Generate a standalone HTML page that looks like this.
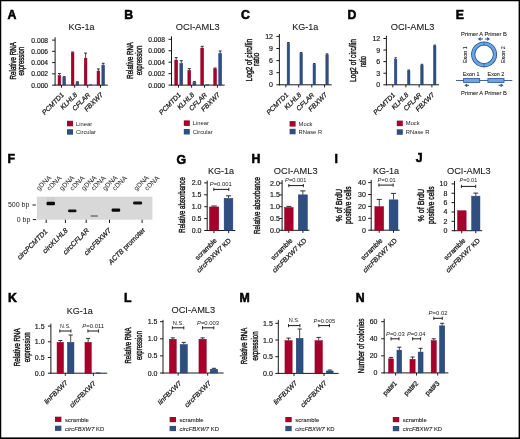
<!DOCTYPE html>
<html><head><meta charset="utf-8"><style>
html,body{margin:0;padding:0;background:#fff;}
body{width:520px;height:439px;overflow:hidden;position:relative;}
svg{display:block;position:absolute;left:0;top:0;will-change:transform;}
svg text{font-family:"Liberation Sans",sans-serif;}
.frame{position:absolute;left:0;top:0;width:520px;height:439px;box-sizing:border-box;border:1px solid #000;border-right-width:2px;border-bottom-width:2px;pointer-events:none;}
</style></head><body>
<svg width="520" height="439" viewBox="0 0 520 439" font-family="Liberation Sans, sans-serif">
<rect width="520" height="439" fill="#fff"/>
<text x="7.40" y="18.70" font-size="12.3" font-weight="bold" fill="#000" stroke="#000" stroke-width="0.55">A</text>
<text x="81.50" y="30.20" font-size="9" text-anchor="middle" fill="#1a1a1a" stroke="#1a1a1a" stroke-width="0.1">KG-1a</text>
<text x="0" y="0" transform="translate(15.50,60.80) rotate(-90)" font-size="9.3" text-anchor="middle" textLength="37.20" lengthAdjust="spacingAndGlyphs" fill="#1a1a1a" stroke="#1a1a1a" stroke-width="0.45">Relative RNA</text>
<text x="0" y="0" transform="translate(24.40,61.20) rotate(-90)" font-size="9.3" text-anchor="middle" textLength="28.60" lengthAdjust="spacingAndGlyphs" fill="#1a1a1a" stroke="#1a1a1a" stroke-width="0.45">expression</text>
<line x1="55.10" y1="37.30" x2="55.10" y2="85.60" stroke="#1a1a1a" stroke-width="1"/>
<line x1="52.10" y1="85.10" x2="55.10" y2="85.10" stroke="#1a1a1a" stroke-width="1"/>
<text x="48.10" y="87.60" font-size="6.7" text-anchor="end" fill="#1a1a1a" stroke="#1a1a1a" stroke-width="0.18">0.000</text>
<line x1="52.10" y1="73.85" x2="55.10" y2="73.85" stroke="#1a1a1a" stroke-width="1"/>
<text x="48.10" y="76.35" font-size="6.7" text-anchor="end" fill="#1a1a1a" stroke="#1a1a1a" stroke-width="0.18">0.002</text>
<line x1="52.10" y1="62.60" x2="55.10" y2="62.60" stroke="#1a1a1a" stroke-width="1"/>
<text x="48.10" y="65.10" font-size="6.7" text-anchor="end" fill="#1a1a1a" stroke="#1a1a1a" stroke-width="0.18">0.004</text>
<line x1="52.10" y1="51.35" x2="55.10" y2="51.35" stroke="#1a1a1a" stroke-width="1"/>
<text x="48.10" y="53.85" font-size="6.7" text-anchor="end" fill="#1a1a1a" stroke="#1a1a1a" stroke-width="0.18">0.006</text>
<line x1="52.10" y1="40.10" x2="55.10" y2="40.10" stroke="#1a1a1a" stroke-width="1"/>
<text x="48.10" y="42.60" font-size="6.7" text-anchor="end" fill="#1a1a1a" stroke="#1a1a1a" stroke-width="0.18">0.008</text>
<line x1="54.60" y1="85.10" x2="107.80" y2="85.10" stroke="#1a1a1a" stroke-width="1"/>
<line x1="61.50" y1="85.10" x2="61.50" y2="87.70" stroke="#1a1a1a" stroke-width="1"/>
<line x1="74.70" y1="85.10" x2="74.70" y2="87.70" stroke="#1a1a1a" stroke-width="1"/>
<line x1="87.70" y1="85.10" x2="87.70" y2="87.70" stroke="#1a1a1a" stroke-width="1"/>
<line x1="100.50" y1="85.10" x2="100.50" y2="87.70" stroke="#1a1a1a" stroke-width="1"/>
<line x1="59.40" y1="73.50" x2="59.40" y2="75.40" stroke="#1a1a1a" stroke-width="0.8"/>
<line x1="58.00" y1="73.50" x2="60.80" y2="73.50" stroke="#1a1a1a" stroke-width="0.9"/>
<rect x="58.05" y="75.65" width="2.70" height="9.45" fill="#a6002b" stroke="#8f0026" stroke-width="0.5"/>
<line x1="64.20" y1="76.60" x2="64.20" y2="77.10" stroke="#1a1a1a" stroke-width="0.8"/>
<line x1="62.80" y1="76.60" x2="65.60" y2="76.60" stroke="#1a1a1a" stroke-width="0.9"/>
<rect x="62.85" y="77.35" width="2.70" height="7.75" fill="#2f4f80" stroke="#1d3a74" stroke-width="0.5"/>
<line x1="72.60" y1="52.00" x2="72.60" y2="52.50" stroke="#1a1a1a" stroke-width="0.8"/>
<line x1="71.20" y1="52.00" x2="74.00" y2="52.00" stroke="#1a1a1a" stroke-width="0.9"/>
<rect x="71.25" y="52.75" width="2.70" height="32.35" fill="#a6002b" stroke="#8f0026" stroke-width="0.5"/>
<line x1="77.40" y1="81.80" x2="77.40" y2="82.20" stroke="#1a1a1a" stroke-width="0.8"/>
<line x1="76.00" y1="81.80" x2="78.80" y2="81.80" stroke="#1a1a1a" stroke-width="0.9"/>
<rect x="76.05" y="82.45" width="2.70" height="2.65" fill="#2f4f80" stroke="#1d3a74" stroke-width="0.5"/>
<line x1="85.60" y1="53.10" x2="85.60" y2="57.90" stroke="#1a1a1a" stroke-width="0.8"/>
<line x1="84.20" y1="53.10" x2="87.00" y2="53.10" stroke="#1a1a1a" stroke-width="0.9"/>
<rect x="84.25" y="58.15" width="2.70" height="26.95" fill="#a6002b" stroke="#8f0026" stroke-width="0.5"/>
<rect x="89.05" y="84.85" width="2.70" height="0.25" fill="#2f4f80" stroke="#1d3a74" stroke-width="0.5"/>
<line x1="98.40" y1="68.90" x2="98.40" y2="70.80" stroke="#1a1a1a" stroke-width="0.8"/>
<line x1="97.00" y1="68.90" x2="99.80" y2="68.90" stroke="#1a1a1a" stroke-width="0.9"/>
<rect x="97.05" y="71.05" width="2.70" height="14.05" fill="#a6002b" stroke="#8f0026" stroke-width="0.5"/>
<line x1="103.20" y1="63.30" x2="103.20" y2="64.90" stroke="#1a1a1a" stroke-width="0.8"/>
<line x1="101.80" y1="63.30" x2="104.60" y2="63.30" stroke="#1a1a1a" stroke-width="0.9"/>
<rect x="101.85" y="65.15" width="2.70" height="19.95" fill="#2f4f80" stroke="#1d3a74" stroke-width="0.5"/>
<text x="0" y="0" transform="translate(64.50,95.40) rotate(-45)" font-size="6.8" text-anchor="end" font-style="italic" fill="#1a1a1a" stroke="#1a1a1a" stroke-width="0.24">PCMTD1</text>
<text x="0" y="0" transform="translate(77.70,95.40) rotate(-45)" font-size="6.8" text-anchor="end" font-style="italic" fill="#1a1a1a" stroke="#1a1a1a" stroke-width="0.24">KLHL8</text>
<text x="0" y="0" transform="translate(90.70,95.40) rotate(-45)" font-size="6.8" text-anchor="end" font-style="italic" fill="#1a1a1a" stroke="#1a1a1a" stroke-width="0.24">CFLAR</text>
<text x="0" y="0" transform="translate(103.50,95.40) rotate(-45)" font-size="6.8" text-anchor="end" font-style="italic" fill="#1a1a1a" stroke="#1a1a1a" stroke-width="0.24">FBXW7</text>
<rect x="67.00" y="120.80" width="6.00" height="5.50" fill="#a6002b"/>
<rect x="67.00" y="129.20" width="6.00" height="5.50" fill="#2f4f80"/>
<text x="76.00" y="125.60" font-size="5.8" fill="#222">Linear</text>
<text x="76.00" y="134.00" font-size="5.8" fill="#222">Circular</text>
<text x="124.20" y="18.70" font-size="12.3" font-weight="bold" fill="#000" stroke="#000" stroke-width="0.55">B</text>
<text x="197.70" y="30.10" font-size="9.25" text-anchor="middle" fill="#1a1a1a" stroke="#1a1a1a" stroke-width="0.1">OCI-AML3</text>
<text x="0" y="0" transform="translate(132.50,60.40) rotate(-90)" font-size="9.3" text-anchor="middle" textLength="36.50" lengthAdjust="spacingAndGlyphs" fill="#1a1a1a" stroke="#1a1a1a" stroke-width="0.45">Relative RNA</text>
<text x="0" y="0" transform="translate(141.50,60.40) rotate(-90)" font-size="9.3" text-anchor="middle" textLength="29.60" lengthAdjust="spacingAndGlyphs" fill="#1a1a1a" stroke="#1a1a1a" stroke-width="0.45">expression</text>
<line x1="171.50" y1="36.30" x2="171.50" y2="85.60" stroke="#1a1a1a" stroke-width="1"/>
<line x1="168.50" y1="85.10" x2="171.50" y2="85.10" stroke="#1a1a1a" stroke-width="1"/>
<text x="165.00" y="87.60" font-size="6.7" text-anchor="end" fill="#1a1a1a" stroke="#1a1a1a" stroke-width="0.18">0.000</text>
<line x1="168.50" y1="73.65" x2="171.50" y2="73.65" stroke="#1a1a1a" stroke-width="1"/>
<text x="165.00" y="76.15" font-size="6.7" text-anchor="end" fill="#1a1a1a" stroke="#1a1a1a" stroke-width="0.18">0.002</text>
<line x1="168.50" y1="62.20" x2="171.50" y2="62.20" stroke="#1a1a1a" stroke-width="1"/>
<text x="165.00" y="64.70" font-size="6.7" text-anchor="end" fill="#1a1a1a" stroke="#1a1a1a" stroke-width="0.18">0.004</text>
<line x1="168.50" y1="50.75" x2="171.50" y2="50.75" stroke="#1a1a1a" stroke-width="1"/>
<text x="165.00" y="53.25" font-size="6.7" text-anchor="end" fill="#1a1a1a" stroke="#1a1a1a" stroke-width="0.18">0.006</text>
<line x1="168.50" y1="39.30" x2="171.50" y2="39.30" stroke="#1a1a1a" stroke-width="1"/>
<text x="165.00" y="41.80" font-size="6.7" text-anchor="end" fill="#1a1a1a" stroke="#1a1a1a" stroke-width="0.18">0.008</text>
<line x1="171.00" y1="85.10" x2="224.70" y2="85.10" stroke="#1a1a1a" stroke-width="1"/>
<line x1="178.50" y1="85.10" x2="178.50" y2="87.70" stroke="#1a1a1a" stroke-width="1"/>
<line x1="191.60" y1="85.10" x2="191.60" y2="87.70" stroke="#1a1a1a" stroke-width="1"/>
<line x1="204.50" y1="85.10" x2="204.50" y2="87.70" stroke="#1a1a1a" stroke-width="1"/>
<line x1="217.40" y1="85.10" x2="217.40" y2="87.70" stroke="#1a1a1a" stroke-width="1"/>
<line x1="176.20" y1="57.60" x2="176.20" y2="59.80" stroke="#1a1a1a" stroke-width="0.8"/>
<line x1="174.70" y1="57.60" x2="177.70" y2="57.60" stroke="#1a1a1a" stroke-width="0.9"/>
<rect x="174.75" y="60.05" width="2.90" height="25.05" fill="#a6002b" stroke="#8f0026" stroke-width="0.5"/>
<line x1="181.30" y1="60.70" x2="181.30" y2="63.20" stroke="#1a1a1a" stroke-width="0.8"/>
<line x1="179.80" y1="60.70" x2="182.80" y2="60.70" stroke="#1a1a1a" stroke-width="0.9"/>
<rect x="179.85" y="63.45" width="2.90" height="21.65" fill="#2f4f80" stroke="#1d3a74" stroke-width="0.5"/>
<line x1="189.30" y1="68.60" x2="189.30" y2="70.10" stroke="#1a1a1a" stroke-width="0.8"/>
<line x1="187.80" y1="68.60" x2="190.80" y2="68.60" stroke="#1a1a1a" stroke-width="0.9"/>
<rect x="187.85" y="70.35" width="2.90" height="14.75" fill="#a6002b" stroke="#8f0026" stroke-width="0.5"/>
<line x1="194.40" y1="81.60" x2="194.40" y2="82.40" stroke="#1a1a1a" stroke-width="0.8"/>
<line x1="192.90" y1="81.60" x2="195.90" y2="81.60" stroke="#1a1a1a" stroke-width="0.9"/>
<rect x="192.95" y="82.65" width="2.90" height="2.45" fill="#2f4f80" stroke="#1d3a74" stroke-width="0.5"/>
<line x1="202.20" y1="46.30" x2="202.20" y2="47.80" stroke="#1a1a1a" stroke-width="0.8"/>
<line x1="200.70" y1="46.30" x2="203.70" y2="46.30" stroke="#1a1a1a" stroke-width="0.9"/>
<rect x="200.75" y="48.05" width="2.90" height="37.05" fill="#a6002b" stroke="#8f0026" stroke-width="0.5"/>
<rect x="205.85" y="84.75" width="2.90" height="0.35" fill="#2f4f80" stroke="#1d3a74" stroke-width="0.5"/>
<line x1="215.10" y1="68.00" x2="215.10" y2="68.60" stroke="#1a1a1a" stroke-width="0.8"/>
<line x1="213.60" y1="68.00" x2="216.60" y2="68.00" stroke="#1a1a1a" stroke-width="0.9"/>
<rect x="213.65" y="68.85" width="2.90" height="16.25" fill="#a6002b" stroke="#8f0026" stroke-width="0.5"/>
<line x1="220.20" y1="51.00" x2="220.20" y2="53.20" stroke="#1a1a1a" stroke-width="0.8"/>
<line x1="218.70" y1="51.00" x2="221.70" y2="51.00" stroke="#1a1a1a" stroke-width="0.9"/>
<rect x="218.75" y="53.45" width="2.90" height="31.65" fill="#2f4f80" stroke="#1d3a74" stroke-width="0.5"/>
<text x="0" y="0" transform="translate(181.50,95.40) rotate(-45)" font-size="6.8" text-anchor="end" font-style="italic" fill="#1a1a1a" stroke="#1a1a1a" stroke-width="0.24">PCMTD1</text>
<text x="0" y="0" transform="translate(194.60,95.40) rotate(-45)" font-size="6.8" text-anchor="end" font-style="italic" fill="#1a1a1a" stroke="#1a1a1a" stroke-width="0.24">KLHL8</text>
<text x="0" y="0" transform="translate(207.50,95.40) rotate(-45)" font-size="6.8" text-anchor="end" font-style="italic" fill="#1a1a1a" stroke="#1a1a1a" stroke-width="0.24">CFLAR</text>
<text x="0" y="0" transform="translate(220.40,95.40) rotate(-45)" font-size="6.8" text-anchor="end" font-style="italic" fill="#1a1a1a" stroke="#1a1a1a" stroke-width="0.24">FBXW7</text>
<rect x="183.80" y="120.40" width="6.00" height="5.50" fill="#a6002b"/>
<rect x="183.80" y="129.00" width="6.00" height="5.50" fill="#2f4f80"/>
<text x="192.80" y="125.20" font-size="5.8" fill="#222">Linear</text>
<text x="192.80" y="133.80" font-size="5.8" fill="#222">Circular</text>
<text x="240.90" y="18.80" font-size="12.3" font-weight="bold" fill="#000" stroke="#000" stroke-width="0.55">C</text>
<text x="305.30" y="30.10" font-size="9" text-anchor="middle" fill="#1a1a1a" stroke="#1a1a1a" stroke-width="0.1">KG-1a</text>
<text x="0" y="0" transform="translate(251.50,60.20) rotate(-90)" font-size="9.3" text-anchor="middle" textLength="42.50" lengthAdjust="spacingAndGlyphs" fill="#1a1a1a" stroke="#1a1a1a" stroke-width="0.45">Log2 of circ/lin</text>
<text x="0" y="0" transform="translate(259.00,59.40) rotate(-90)" font-size="9.3" text-anchor="middle" textLength="13.20" lengthAdjust="spacingAndGlyphs" fill="#1a1a1a" stroke="#1a1a1a" stroke-width="0.45">ratio</text>
<line x1="279.40" y1="34.00" x2="279.40" y2="85.30" stroke="#1a1a1a" stroke-width="1"/>
<line x1="276.40" y1="84.80" x2="279.40" y2="84.80" stroke="#1a1a1a" stroke-width="1"/>
<text x="273.00" y="87.30" font-size="7" text-anchor="end" fill="#1a1a1a" stroke="#1a1a1a" stroke-width="0.18">0</text>
<line x1="276.40" y1="72.70" x2="279.40" y2="72.70" stroke="#1a1a1a" stroke-width="1"/>
<text x="273.00" y="75.20" font-size="7" text-anchor="end" fill="#1a1a1a" stroke="#1a1a1a" stroke-width="0.18">3</text>
<line x1="276.40" y1="60.60" x2="279.40" y2="60.60" stroke="#1a1a1a" stroke-width="1"/>
<text x="273.00" y="63.10" font-size="7" text-anchor="end" fill="#1a1a1a" stroke="#1a1a1a" stroke-width="0.18">6</text>
<line x1="276.40" y1="48.50" x2="279.40" y2="48.50" stroke="#1a1a1a" stroke-width="1"/>
<text x="273.00" y="51.00" font-size="7" text-anchor="end" fill="#1a1a1a" stroke="#1a1a1a" stroke-width="0.18">9</text>
<line x1="276.40" y1="36.40" x2="279.40" y2="36.40" stroke="#1a1a1a" stroke-width="1"/>
<text x="273.00" y="38.90" font-size="7" text-anchor="end" fill="#1a1a1a" stroke="#1a1a1a" stroke-width="0.18">12</text>
<line x1="278.90" y1="84.80" x2="331.70" y2="84.80" stroke="#1a1a1a" stroke-width="1"/>
<line x1="285.90" y1="84.80" x2="285.90" y2="87.40" stroke="#1a1a1a" stroke-width="1"/>
<line x1="298.70" y1="84.80" x2="298.70" y2="87.40" stroke="#1a1a1a" stroke-width="1"/>
<line x1="311.80" y1="84.80" x2="311.80" y2="87.40" stroke="#1a1a1a" stroke-width="1"/>
<line x1="324.60" y1="84.80" x2="324.60" y2="87.40" stroke="#1a1a1a" stroke-width="1"/>
<line x1="288.35" y1="42.50" x2="288.35" y2="43.10" stroke="#1a1a1a" stroke-width="0.8"/>
<line x1="287.10" y1="42.50" x2="289.60" y2="42.50" stroke="#1a1a1a" stroke-width="0.9"/>
<rect x="287.15" y="43.35" width="2.40" height="41.45" fill="#2f4f80" stroke="#1d3a74" stroke-width="0.5"/>
<line x1="301.15" y1="52.50" x2="301.15" y2="53.10" stroke="#1a1a1a" stroke-width="0.8"/>
<line x1="299.90" y1="52.50" x2="302.40" y2="52.50" stroke="#1a1a1a" stroke-width="0.9"/>
<rect x="299.95" y="53.35" width="2.40" height="31.45" fill="#2f4f80" stroke="#1d3a74" stroke-width="0.5"/>
<line x1="314.25" y1="63.60" x2="314.25" y2="64.20" stroke="#1a1a1a" stroke-width="0.8"/>
<line x1="313.00" y1="63.60" x2="315.50" y2="63.60" stroke="#1a1a1a" stroke-width="0.9"/>
<rect x="313.05" y="64.45" width="2.40" height="20.35" fill="#2f4f80" stroke="#1d3a74" stroke-width="0.5"/>
<line x1="327.05" y1="53.90" x2="327.05" y2="54.50" stroke="#1a1a1a" stroke-width="0.8"/>
<line x1="325.80" y1="53.90" x2="328.30" y2="53.90" stroke="#1a1a1a" stroke-width="0.9"/>
<rect x="325.85" y="54.75" width="2.40" height="30.05" fill="#2f4f80" stroke="#1d3a74" stroke-width="0.5"/>
<text x="0" y="0" transform="translate(288.90,95.40) rotate(-45)" font-size="6.8" text-anchor="end" font-style="italic" fill="#1a1a1a" stroke="#1a1a1a" stroke-width="0.24">PCMTD1</text>
<text x="0" y="0" transform="translate(301.70,95.40) rotate(-45)" font-size="6.8" text-anchor="end" font-style="italic" fill="#1a1a1a" stroke="#1a1a1a" stroke-width="0.24">KLHL8</text>
<text x="0" y="0" transform="translate(314.80,95.40) rotate(-45)" font-size="6.8" text-anchor="end" font-style="italic" fill="#1a1a1a" stroke="#1a1a1a" stroke-width="0.24">CFLAR</text>
<text x="0" y="0" transform="translate(327.60,95.40) rotate(-45)" font-size="6.8" text-anchor="end" font-style="italic" fill="#1a1a1a" stroke="#1a1a1a" stroke-width="0.24">FBXW7</text>
<rect x="289.60" y="121.10" width="6.00" height="5.50" fill="#a6002b"/>
<rect x="289.60" y="128.80" width="6.00" height="5.50" fill="#2f4f80"/>
<text x="298.60" y="125.90" font-size="5.8" fill="#222">Mock</text>
<text x="298.60" y="133.60" font-size="5.8" fill="#222">RNase R</text>
<text x="347.40" y="18.50" font-size="12.3" font-weight="bold" fill="#000" stroke="#000" stroke-width="0.55">D</text>
<text x="412.60" y="30.30" font-size="9.25" text-anchor="middle" fill="#1a1a1a" stroke="#1a1a1a" stroke-width="0.1">OCI-AML3</text>
<text x="0" y="0" transform="translate(356.10,60.50) rotate(-90)" font-size="9.3" text-anchor="middle" textLength="43.10" lengthAdjust="spacingAndGlyphs" fill="#1a1a1a" stroke="#1a1a1a" stroke-width="0.45">Log2 of circ/lin</text>
<text x="0" y="0" transform="translate(365.50,61.50) rotate(-90)" font-size="9.3" text-anchor="middle" textLength="11.10" lengthAdjust="spacingAndGlyphs" fill="#1a1a1a" stroke="#1a1a1a" stroke-width="0.45">ratio</text>
<line x1="386.40" y1="35.70" x2="386.40" y2="85.30" stroke="#1a1a1a" stroke-width="1"/>
<line x1="383.40" y1="84.80" x2="386.40" y2="84.80" stroke="#1a1a1a" stroke-width="1"/>
<text x="380.20" y="87.30" font-size="7" text-anchor="end" fill="#1a1a1a" stroke="#1a1a1a" stroke-width="0.18">0</text>
<line x1="383.40" y1="73.22" x2="386.40" y2="73.22" stroke="#1a1a1a" stroke-width="1"/>
<text x="380.20" y="75.72" font-size="7" text-anchor="end" fill="#1a1a1a" stroke="#1a1a1a" stroke-width="0.18">3</text>
<line x1="383.40" y1="61.64" x2="386.40" y2="61.64" stroke="#1a1a1a" stroke-width="1"/>
<text x="380.20" y="64.14" font-size="7" text-anchor="end" fill="#1a1a1a" stroke="#1a1a1a" stroke-width="0.18">6</text>
<line x1="383.40" y1="50.06" x2="386.40" y2="50.06" stroke="#1a1a1a" stroke-width="1"/>
<text x="380.20" y="52.56" font-size="7" text-anchor="end" fill="#1a1a1a" stroke="#1a1a1a" stroke-width="0.18">9</text>
<line x1="383.40" y1="38.48" x2="386.40" y2="38.48" stroke="#1a1a1a" stroke-width="1"/>
<text x="380.20" y="40.98" font-size="7" text-anchor="end" fill="#1a1a1a" stroke="#1a1a1a" stroke-width="0.18">12</text>
<line x1="385.90" y1="84.80" x2="439.00" y2="84.80" stroke="#1a1a1a" stroke-width="1"/>
<line x1="392.80" y1="84.80" x2="392.80" y2="87.40" stroke="#1a1a1a" stroke-width="1"/>
<line x1="405.90" y1="84.80" x2="405.90" y2="87.40" stroke="#1a1a1a" stroke-width="1"/>
<line x1="419.10" y1="84.80" x2="419.10" y2="87.40" stroke="#1a1a1a" stroke-width="1"/>
<line x1="431.90" y1="84.80" x2="431.90" y2="87.40" stroke="#1a1a1a" stroke-width="1"/>
<line x1="395.65" y1="57.80" x2="395.65" y2="59.20" stroke="#1a1a1a" stroke-width="0.8"/>
<line x1="394.40" y1="57.80" x2="396.90" y2="57.80" stroke="#1a1a1a" stroke-width="0.9"/>
<rect x="394.45" y="59.45" width="2.40" height="25.35" fill="#2f4f80" stroke="#1d3a74" stroke-width="0.5"/>
<line x1="408.75" y1="70.00" x2="408.75" y2="70.60" stroke="#1a1a1a" stroke-width="0.8"/>
<line x1="407.50" y1="70.00" x2="410.00" y2="70.00" stroke="#1a1a1a" stroke-width="0.9"/>
<rect x="407.55" y="70.85" width="2.40" height="13.95" fill="#2f4f80" stroke="#1d3a74" stroke-width="0.5"/>
<line x1="421.95" y1="64.30" x2="421.95" y2="64.90" stroke="#1a1a1a" stroke-width="0.8"/>
<line x1="420.70" y1="64.30" x2="423.20" y2="64.30" stroke="#1a1a1a" stroke-width="0.9"/>
<rect x="420.75" y="65.15" width="2.40" height="19.65" fill="#2f4f80" stroke="#1d3a74" stroke-width="0.5"/>
<line x1="434.75" y1="45.10" x2="434.75" y2="45.70" stroke="#1a1a1a" stroke-width="0.8"/>
<line x1="433.50" y1="45.10" x2="436.00" y2="45.10" stroke="#1a1a1a" stroke-width="0.9"/>
<rect x="433.55" y="45.95" width="2.40" height="38.85" fill="#2f4f80" stroke="#1d3a74" stroke-width="0.5"/>
<text x="0" y="0" transform="translate(395.80,95.40) rotate(-45)" font-size="6.8" text-anchor="end" font-style="italic" fill="#1a1a1a" stroke="#1a1a1a" stroke-width="0.24">PCMTD1</text>
<text x="0" y="0" transform="translate(408.90,95.40) rotate(-45)" font-size="6.8" text-anchor="end" font-style="italic" fill="#1a1a1a" stroke="#1a1a1a" stroke-width="0.24">KLHL8</text>
<text x="0" y="0" transform="translate(422.10,95.40) rotate(-45)" font-size="6.8" text-anchor="end" font-style="italic" fill="#1a1a1a" stroke="#1a1a1a" stroke-width="0.24">CFLAR</text>
<text x="0" y="0" transform="translate(434.90,95.40) rotate(-45)" font-size="6.8" text-anchor="end" font-style="italic" fill="#1a1a1a" stroke="#1a1a1a" stroke-width="0.24">FBXW7</text>
<rect x="396.80" y="120.60" width="6.00" height="5.50" fill="#a6002b"/>
<rect x="396.80" y="129.30" width="6.00" height="5.50" fill="#2f4f80"/>
<text x="405.80" y="125.40" font-size="5.8" fill="#222">Mock</text>
<text x="405.80" y="134.10" font-size="5.8" fill="#222">RNase R</text>
<text x="455.80" y="18.80" font-size="12.3" font-weight="bold" fill="#000" stroke="#000" stroke-width="0.55">E</text>
<text x="461.10" y="35.60" font-size="6.2" textLength="45.80" lengthAdjust="spacingAndGlyphs" fill="#222" stroke="#222" stroke-width="0.1">Primer A Primer B</text>
<text x="461.10" y="95.00" font-size="6.2" textLength="45.80" lengthAdjust="spacingAndGlyphs" fill="#222" stroke="#222" stroke-width="0.1">Primer A Primer B</text>
<line x1="479.80" y1="39.00" x2="483.00" y2="39.00" stroke="#2a5599" stroke-width="1.0"/>
<path d="M477.80,39.00 L480.60,37.10 L480.60,40.90 Z" fill="#2a5599"/>
<line x1="485.00" y1="39.00" x2="488.00" y2="39.00" stroke="#2a5599" stroke-width="1.0"/>
<path d="M490.00,39.00 L487.20,37.10 L487.20,40.90 Z" fill="#2a5599"/>
<circle cx="484.1" cy="54.4" r="10.9" fill="none" stroke="#2a5599" stroke-width="4.2"/>
<circle cx="484.1" cy="54.4" r="10.9" fill="none" stroke="#6aa6e0" stroke-width="2.5"/>
<line x1="484.10" y1="42.00" x2="484.10" y2="45.60" stroke="#2a5599" stroke-width="0.7"/>
<line x1="484.10" y1="63.20" x2="484.10" y2="66.80" stroke="#2a5599" stroke-width="0.7"/>
<text x="0" y="0" transform="translate(466.70,54.60) rotate(-90)" font-size="6.2" text-anchor="middle" textLength="16.80" lengthAdjust="spacingAndGlyphs" fill="#222" stroke="#222" stroke-width="0.1">Exon 1</text>
<text x="0" y="0" transform="translate(505.00,54.60) rotate(-90)" font-size="6.2" text-anchor="middle" textLength="16.80" lengthAdjust="spacingAndGlyphs" fill="#222" stroke="#222" stroke-width="0.1">Exon 2</text>
<text x="462.80" y="75.70" font-size="6.2" textLength="16.60" lengthAdjust="spacingAndGlyphs" fill="#222" stroke="#222" stroke-width="0.1">Exon 1</text>
<text x="487.60" y="75.70" font-size="6.2" textLength="16.70" lengthAdjust="spacingAndGlyphs" fill="#222" stroke="#222" stroke-width="0.1">Exon 2</text>
<line x1="456.00" y1="80.50" x2="512.30" y2="80.50" stroke="#2a5599" stroke-width="0.9"/>
<rect x="463.6" y="78.5" width="16.1" height="4.0" fill="#6aa6e0" stroke="#2a5599" stroke-width="0.8"/>
<rect x="487.9" y="78.5" width="16.1" height="4.0" fill="#6aa6e0" stroke="#2a5599" stroke-width="0.8"/>
<line x1="466.30" y1="85.30" x2="469.00" y2="85.30" stroke="#2a5599" stroke-width="1.0"/>
<path d="M464.30,85.30 L467.10,83.40 L467.10,87.20 Z" fill="#2a5599"/>
<line x1="498.50" y1="85.30" x2="501.50" y2="85.30" stroke="#2a5599" stroke-width="1.0"/>
<path d="M503.50,85.30 L500.70,83.40 L500.70,87.20 Z" fill="#2a5599"/>
<text x="7.60" y="162.80" font-size="12.3" font-weight="bold" fill="#000" stroke="#000" stroke-width="0.55">F</text>
<rect x="36.90" y="196.70" width="115.50" height="23.00" fill="#d8d8d8"/>
<rect x="46.5" y="197" width="8.5" height="4.8" fill="#cfcfcf"/>
<rect x="46.5" y="201.8" width="8.50" height="3.50" rx="1.2" fill="#0a0a0a"/>
<rect x="68" y="209.5" width="8.50" height="2.70" rx="1.2" fill="#111"/>
<rect x="90.3" y="214.9" width="7.80" height="2.10" rx="1.2" fill="#8c8c8c"/>
<rect x="111.6" y="208.5" width="8.60" height="3.30" rx="1.2" fill="#0a0a0a"/>
<rect x="133.1" y="201.5" width="9.00" height="2.90" rx="1.2" fill="#111"/>
<text x="29.40" y="207.40" font-size="7" text-anchor="end" fill="#1a1a1a">500 bp</text>
<text x="30.40" y="221.60" font-size="7" text-anchor="end" fill="#1a1a1a">0 bp</text>
<line x1="32.50" y1="205.00" x2="35.80" y2="205.00" stroke="#1a1a1a" stroke-width="1"/>
<line x1="32.80" y1="219.60" x2="36.20" y2="219.60" stroke="#1a1a1a" stroke-width="1"/>
<line x1="46.20" y1="219.70" x2="46.20" y2="223.00" stroke="#1a1a1a" stroke-width="1"/>
<line x1="65.40" y1="219.70" x2="65.40" y2="223.00" stroke="#1a1a1a" stroke-width="1"/>
<line x1="86.20" y1="219.70" x2="86.20" y2="223.00" stroke="#1a1a1a" stroke-width="1"/>
<line x1="109.50" y1="219.70" x2="109.50" y2="223.00" stroke="#1a1a1a" stroke-width="1"/>
<line x1="142.10" y1="219.70" x2="142.10" y2="223.00" stroke="#1a1a1a" stroke-width="1"/>
<text x="0" y="0" transform="translate(38.90,191.00) rotate(-45)" font-size="6.8" fill="#1a1a1a">gDNA</text>
<text x="0" y="0" transform="translate(49.50,191.00) rotate(-45)" font-size="6.8" fill="#1a1a1a">cDNA</text>
<text x="0" y="0" transform="translate(62.00,191.00) rotate(-45)" font-size="6.8" fill="#1a1a1a">gDNA</text>
<text x="0" y="0" transform="translate(72.50,191.00) rotate(-45)" font-size="6.8" fill="#1a1a1a">cDNA</text>
<text x="0" y="0" transform="translate(84.10,191.00) rotate(-45)" font-size="6.8" fill="#1a1a1a">gDNA</text>
<text x="0" y="0" transform="translate(93.70,191.00) rotate(-45)" font-size="6.8" fill="#1a1a1a">cDNA</text>
<text x="0" y="0" transform="translate(105.20,191.00) rotate(-45)" font-size="6.8" fill="#1a1a1a">gDNA</text>
<text x="0" y="0" transform="translate(114.90,191.00) rotate(-45)" font-size="6.8" fill="#1a1a1a">cDNA</text>
<text x="0" y="0" transform="translate(136.50,191.00) rotate(-45)" font-size="6.8" fill="#1a1a1a">gDNA</text>
<text x="0" y="0" transform="translate(147.20,191.00) rotate(-45)" font-size="6.8" fill="#1a1a1a">cDNA</text>
<text x="0" y="0" transform="translate(48.10,232.00) rotate(-45)" font-size="7" text-anchor="end" font-style="italic" fill="#1a1a1a" stroke="#1a1a1a" stroke-width="0.24"><tspan>circ</tspan>PCMTD1</text>
<text x="0" y="0" transform="translate(68.20,231.00) rotate(-45)" font-size="7" text-anchor="end" font-style="italic" fill="#1a1a1a" stroke="#1a1a1a" stroke-width="0.24">circKLHL8</text>
<text x="0" y="0" transform="translate(89.60,231.00) rotate(-45)" font-size="7" text-anchor="end" font-style="italic" fill="#1a1a1a" stroke="#1a1a1a" stroke-width="0.24">circCFLAR</text>
<text x="0" y="0" transform="translate(111.50,231.00) rotate(-45)" font-size="7" text-anchor="end" font-style="italic" fill="#1a1a1a" stroke="#1a1a1a" stroke-width="0.24">circFBXW7</text>
<text x="0" y="0" transform="translate(145.60,230.50) rotate(-45)" font-size="7" text-anchor="end" fill="#1a1a1a" stroke="#1a1a1a" stroke-width="0.24"><tspan font-style="italic">ACTB</tspan> promoter</text>
<text x="221.00" y="174.00" font-size="9" text-anchor="middle" fill="#1a1a1a" stroke="#1a1a1a" stroke-width="0.1">KG-1a</text>
<text x="176.40" y="163.80" font-size="12.3" font-weight="bold" fill="#000" stroke="#000" stroke-width="0.55">G</text>
<text x="0" y="0" transform="translate(185.00,204.90) rotate(-90)" font-size="9.3" text-anchor="middle" textLength="55.60" lengthAdjust="spacingAndGlyphs" fill="#1a1a1a" stroke="#1a1a1a" stroke-width="0.45">Relative absorbance</text>
<line x1="207.20" y1="180.60" x2="207.20" y2="231.00" stroke="#1a1a1a" stroke-width="1"/>
<line x1="204.20" y1="230.50" x2="207.20" y2="230.50" stroke="#1a1a1a" stroke-width="1"/>
<text x="201.50" y="233.00" font-size="7" text-anchor="end" fill="#1a1a1a" stroke="#1a1a1a" stroke-width="0.18">0.0</text>
<line x1="204.20" y1="218.60" x2="207.20" y2="218.60" stroke="#1a1a1a" stroke-width="1"/>
<text x="201.50" y="221.10" font-size="7" text-anchor="end" fill="#1a1a1a" stroke="#1a1a1a" stroke-width="0.18">0.5</text>
<line x1="204.20" y1="206.70" x2="207.20" y2="206.70" stroke="#1a1a1a" stroke-width="1"/>
<text x="201.50" y="209.20" font-size="7" text-anchor="end" fill="#1a1a1a" stroke="#1a1a1a" stroke-width="0.18">1.0</text>
<line x1="204.20" y1="194.80" x2="207.20" y2="194.80" stroke="#1a1a1a" stroke-width="1"/>
<text x="201.50" y="197.30" font-size="7" text-anchor="end" fill="#1a1a1a" stroke="#1a1a1a" stroke-width="0.18">1.5</text>
<line x1="204.20" y1="182.90" x2="207.20" y2="182.90" stroke="#1a1a1a" stroke-width="1"/>
<text x="201.50" y="185.40" font-size="7" text-anchor="end" fill="#1a1a1a" stroke="#1a1a1a" stroke-width="0.18">2.0</text>
<line x1="206.70" y1="230.50" x2="235.20" y2="230.50" stroke="#1a1a1a" stroke-width="1"/>
<line x1="213.90" y1="230.50" x2="213.90" y2="233.10" stroke="#1a1a1a" stroke-width="1"/>
<line x1="228.70" y1="230.50" x2="228.70" y2="233.10" stroke="#1a1a1a" stroke-width="1"/>
<line x1="214.10" y1="206.00" x2="214.10" y2="206.70" stroke="#1a1a1a" stroke-width="0.8"/>
<line x1="211.36" y1="206.00" x2="216.84" y2="206.00" stroke="#1a1a1a" stroke-width="0.9"/>
<rect x="209.45" y="206.95" width="9.30" height="23.55" fill="#a6002b" stroke="#8f0026" stroke-width="0.5"/>
<line x1="228.50" y1="195.80" x2="228.50" y2="198.10" stroke="#1a1a1a" stroke-width="0.8"/>
<line x1="225.94" y1="195.80" x2="231.06" y2="195.80" stroke="#1a1a1a" stroke-width="0.9"/>
<rect x="224.15" y="198.35" width="8.70" height="32.15" fill="#2f4f80" stroke="#1d3a74" stroke-width="0.5"/>
<line x1="213.80" y1="189.40" x2="228.80" y2="189.40" stroke="#1a1a1a" stroke-width="1"/>
<line x1="213.80" y1="187.80" x2="213.80" y2="191.00" stroke="#1a1a1a" stroke-width="0.9"/>
<line x1="228.80" y1="187.80" x2="228.80" y2="191.00" stroke="#1a1a1a" stroke-width="0.9"/>
<text x="209.80" y="186.40" font-size="5.8" textLength="21.90" lengthAdjust="spacingAndGlyphs" fill="#1a1a1a"><tspan font-style="italic">P</tspan>=0.001</text>
<text x="0" y="0" transform="translate(217.30,241.00) rotate(-45)" font-size="6.8" text-anchor="end" fill="#1a1a1a" stroke="#1a1a1a" stroke-width="0.24">scramble</text>
<text x="0" y="0" transform="translate(231.40,241.00) rotate(-45)" font-size="6.8" text-anchor="end" fill="#1a1a1a" stroke="#1a1a1a" stroke-width="0.24"><tspan font-style="italic">circFBXW7</tspan> KD</text>
<text x="251.40" y="163.00" font-size="12.3" font-weight="bold" fill="#000" stroke="#000" stroke-width="0.55">H</text>
<text x="0" y="0" transform="translate(260.00,205.50) rotate(-90)" font-size="9.3" text-anchor="middle" textLength="57.00" lengthAdjust="spacingAndGlyphs" fill="#1a1a1a" stroke="#1a1a1a" stroke-width="0.45">Relative absorbance</text>
<line x1="282.10" y1="180.10" x2="282.10" y2="230.80" stroke="#1a1a1a" stroke-width="1"/>
<line x1="279.10" y1="230.30" x2="282.10" y2="230.30" stroke="#1a1a1a" stroke-width="1"/>
<text x="279.80" y="232.80" font-size="7" text-anchor="end" fill="#1a1a1a" stroke="#1a1a1a" stroke-width="0.18">0.0</text>
<line x1="279.10" y1="218.50" x2="282.10" y2="218.50" stroke="#1a1a1a" stroke-width="1"/>
<text x="279.80" y="221.00" font-size="7" text-anchor="end" fill="#1a1a1a" stroke="#1a1a1a" stroke-width="0.18">0.5</text>
<line x1="279.10" y1="206.70" x2="282.10" y2="206.70" stroke="#1a1a1a" stroke-width="1"/>
<text x="279.80" y="209.20" font-size="7" text-anchor="end" fill="#1a1a1a" stroke="#1a1a1a" stroke-width="0.18">1.0</text>
<line x1="279.10" y1="194.90" x2="282.10" y2="194.90" stroke="#1a1a1a" stroke-width="1"/>
<text x="279.80" y="197.40" font-size="7" text-anchor="end" fill="#1a1a1a" stroke="#1a1a1a" stroke-width="0.18">1.5</text>
<line x1="279.10" y1="183.10" x2="282.10" y2="183.10" stroke="#1a1a1a" stroke-width="1"/>
<text x="279.80" y="185.60" font-size="7" text-anchor="end" fill="#1a1a1a" stroke="#1a1a1a" stroke-width="0.18">2.0</text>
<line x1="281.60" y1="230.30" x2="309.40" y2="230.30" stroke="#1a1a1a" stroke-width="1"/>
<line x1="288.80" y1="230.30" x2="288.80" y2="232.90" stroke="#1a1a1a" stroke-width="1"/>
<line x1="302.90" y1="230.30" x2="302.90" y2="232.90" stroke="#1a1a1a" stroke-width="1"/>
<line x1="288.85" y1="206.40" x2="288.85" y2="207.20" stroke="#1a1a1a" stroke-width="0.8"/>
<line x1="286.32" y1="206.40" x2="291.38" y2="206.40" stroke="#1a1a1a" stroke-width="0.9"/>
<rect x="284.55" y="207.45" width="8.60" height="22.85" fill="#a6002b" stroke="#8f0026" stroke-width="0.5"/>
<line x1="302.85" y1="190.90" x2="302.85" y2="194.60" stroke="#1a1a1a" stroke-width="0.8"/>
<line x1="300.20" y1="190.90" x2="305.50" y2="190.90" stroke="#1a1a1a" stroke-width="0.9"/>
<rect x="298.35" y="194.85" width="9.00" height="35.45" fill="#2f4f80" stroke="#1d3a74" stroke-width="0.5"/>
<line x1="288.80" y1="185.60" x2="303.40" y2="185.60" stroke="#1a1a1a" stroke-width="1"/>
<line x1="288.80" y1="184.00" x2="288.80" y2="187.20" stroke="#1a1a1a" stroke-width="0.9"/>
<line x1="303.40" y1="184.00" x2="303.40" y2="187.20" stroke="#1a1a1a" stroke-width="0.9"/>
<text x="285.10" y="182.20" font-size="5.8" textLength="21.30" lengthAdjust="spacingAndGlyphs" fill="#1a1a1a"><tspan font-style="italic">P</tspan>=0.001</text>
<text x="0" y="0" transform="translate(293.00,241.00) rotate(-45)" font-size="6.8" text-anchor="end" fill="#1a1a1a" stroke="#1a1a1a" stroke-width="0.24">scramble</text>
<text x="0" y="0" transform="translate(307.00,241.00) rotate(-45)" font-size="6.8" text-anchor="end" fill="#1a1a1a" stroke="#1a1a1a" stroke-width="0.24"><tspan font-style="italic">circFBXW7</tspan> KD</text>
<text x="295.70" y="173.80" font-size="9.25" text-anchor="middle" fill="#1a1a1a" stroke="#1a1a1a" stroke-width="0.1">OCI-AML3</text>
<text x="334.40" y="162.60" font-size="12.3" font-weight="bold" fill="#000" stroke="#000" stroke-width="0.55">I</text>
<text x="0" y="0" transform="translate(342.30,205.20) rotate(-90)" font-size="9.3" text-anchor="middle" textLength="32.60" lengthAdjust="spacingAndGlyphs" fill="#1a1a1a" stroke="#1a1a1a" stroke-width="0.45">% of BrdU</text>
<text x="0" y="0" transform="translate(350.80,205.20) rotate(-90)" font-size="9.3" text-anchor="middle" textLength="37.60" lengthAdjust="spacingAndGlyphs" fill="#1a1a1a" stroke="#1a1a1a" stroke-width="0.45">positive cells</text>
<line x1="371.20" y1="179.80" x2="371.20" y2="230.70" stroke="#1a1a1a" stroke-width="1"/>
<line x1="368.20" y1="230.20" x2="371.20" y2="230.20" stroke="#1a1a1a" stroke-width="1"/>
<text x="365.90" y="232.70" font-size="7" text-anchor="end" fill="#1a1a1a" stroke="#1a1a1a" stroke-width="0.18">0</text>
<line x1="368.20" y1="218.30" x2="371.20" y2="218.30" stroke="#1a1a1a" stroke-width="1"/>
<text x="365.90" y="220.80" font-size="7" text-anchor="end" fill="#1a1a1a" stroke="#1a1a1a" stroke-width="0.18">10</text>
<line x1="368.20" y1="206.40" x2="371.20" y2="206.40" stroke="#1a1a1a" stroke-width="1"/>
<text x="365.90" y="208.90" font-size="7" text-anchor="end" fill="#1a1a1a" stroke="#1a1a1a" stroke-width="0.18">20</text>
<line x1="368.20" y1="194.50" x2="371.20" y2="194.50" stroke="#1a1a1a" stroke-width="1"/>
<text x="365.90" y="197.00" font-size="7" text-anchor="end" fill="#1a1a1a" stroke="#1a1a1a" stroke-width="0.18">30</text>
<line x1="368.20" y1="182.60" x2="371.20" y2="182.60" stroke="#1a1a1a" stroke-width="1"/>
<text x="365.90" y="185.10" font-size="7" text-anchor="end" fill="#1a1a1a" stroke="#1a1a1a" stroke-width="0.18">40</text>
<line x1="370.70" y1="230.20" x2="399.70" y2="230.20" stroke="#1a1a1a" stroke-width="1"/>
<line x1="379.20" y1="230.20" x2="379.20" y2="232.80" stroke="#1a1a1a" stroke-width="1"/>
<line x1="393.50" y1="230.20" x2="393.50" y2="232.80" stroke="#1a1a1a" stroke-width="1"/>
<line x1="379.25" y1="199.40" x2="379.25" y2="206.40" stroke="#1a1a1a" stroke-width="0.8"/>
<line x1="376.66" y1="199.40" x2="381.84" y2="199.40" stroke="#1a1a1a" stroke-width="0.9"/>
<rect x="374.85" y="206.65" width="8.80" height="23.55" fill="#a6002b" stroke="#8f0026" stroke-width="0.5"/>
<line x1="393.55" y1="193.40" x2="393.55" y2="199.60" stroke="#1a1a1a" stroke-width="0.8"/>
<line x1="390.96" y1="193.40" x2="396.14" y2="193.40" stroke="#1a1a1a" stroke-width="0.9"/>
<rect x="389.15" y="199.85" width="8.80" height="30.35" fill="#2f4f80" stroke="#1d3a74" stroke-width="0.5"/>
<line x1="378.90" y1="185.10" x2="393.20" y2="185.10" stroke="#1a1a1a" stroke-width="1"/>
<line x1="378.90" y1="183.50" x2="378.90" y2="186.70" stroke="#1a1a1a" stroke-width="0.9"/>
<line x1="393.20" y1="183.50" x2="393.20" y2="186.70" stroke="#1a1a1a" stroke-width="0.9"/>
<text x="377.60" y="181.80" font-size="5.8" textLength="18.10" lengthAdjust="spacingAndGlyphs" fill="#1a1a1a"><tspan font-style="italic">P</tspan>=0.01</text>
<text x="0" y="0" transform="translate(383.00,241.00) rotate(-45)" font-size="6.8" text-anchor="end" fill="#1a1a1a" stroke="#1a1a1a" stroke-width="0.24">scramble</text>
<text x="0" y="0" transform="translate(397.50,241.00) rotate(-45)" font-size="6.8" text-anchor="end" fill="#1a1a1a" stroke="#1a1a1a" stroke-width="0.24"><tspan font-style="italic">circFBXW7</tspan> KD</text>
<text x="386.00" y="174.30" font-size="9" text-anchor="middle" fill="#1a1a1a" stroke="#1a1a1a" stroke-width="0.1">KG-1a</text>
<text x="415.70" y="162.00" font-size="12.3" font-weight="bold" fill="#000" stroke="#000" stroke-width="0.55">J</text>
<text x="0" y="0" transform="translate(423.60,205.20) rotate(-90)" font-size="9.3" text-anchor="middle" textLength="32.60" lengthAdjust="spacingAndGlyphs" fill="#1a1a1a" stroke="#1a1a1a" stroke-width="0.45">% of BrdU</text>
<text x="0" y="0" transform="translate(434.00,205.20) rotate(-90)" font-size="9.3" text-anchor="middle" textLength="37.60" lengthAdjust="spacingAndGlyphs" fill="#1a1a1a" stroke="#1a1a1a" stroke-width="0.45">positive cells</text>
<line x1="454.50" y1="181.00" x2="454.50" y2="231.20" stroke="#1a1a1a" stroke-width="1"/>
<line x1="451.50" y1="230.70" x2="454.50" y2="230.70" stroke="#1a1a1a" stroke-width="1"/>
<text x="447.40" y="233.20" font-size="7" text-anchor="end" fill="#1a1a1a" stroke="#1a1a1a" stroke-width="0.18">0</text>
<line x1="451.50" y1="221.34" x2="454.50" y2="221.34" stroke="#1a1a1a" stroke-width="1"/>
<text x="447.40" y="223.84" font-size="7" text-anchor="end" fill="#1a1a1a" stroke="#1a1a1a" stroke-width="0.18">2</text>
<line x1="451.50" y1="211.98" x2="454.50" y2="211.98" stroke="#1a1a1a" stroke-width="1"/>
<text x="447.40" y="214.48" font-size="7" text-anchor="end" fill="#1a1a1a" stroke="#1a1a1a" stroke-width="0.18">4</text>
<line x1="451.50" y1="202.62" x2="454.50" y2="202.62" stroke="#1a1a1a" stroke-width="1"/>
<text x="447.40" y="205.12" font-size="7" text-anchor="end" fill="#1a1a1a" stroke="#1a1a1a" stroke-width="0.18">6</text>
<line x1="451.50" y1="193.26" x2="454.50" y2="193.26" stroke="#1a1a1a" stroke-width="1"/>
<text x="447.40" y="195.76" font-size="7" text-anchor="end" fill="#1a1a1a" stroke="#1a1a1a" stroke-width="0.18">8</text>
<line x1="451.50" y1="183.90" x2="454.50" y2="183.90" stroke="#1a1a1a" stroke-width="1"/>
<text x="447.40" y="186.40" font-size="7" text-anchor="end" fill="#1a1a1a" stroke="#1a1a1a" stroke-width="0.18">10</text>
<line x1="454.00" y1="230.70" x2="482.20" y2="230.70" stroke="#1a1a1a" stroke-width="1"/>
<line x1="461.70" y1="230.70" x2="461.70" y2="233.30" stroke="#1a1a1a" stroke-width="1"/>
<line x1="475.80" y1="230.70" x2="475.80" y2="233.30" stroke="#1a1a1a" stroke-width="1"/>
<rect x="457.55" y="210.75" width="8.60" height="19.95" fill="#a6002b" stroke="#8f0026" stroke-width="0.5"/>
<line x1="475.80" y1="193.10" x2="475.80" y2="195.90" stroke="#1a1a1a" stroke-width="0.8"/>
<line x1="473.36" y1="193.10" x2="478.24" y2="193.10" stroke="#1a1a1a" stroke-width="0.9"/>
<rect x="471.65" y="196.15" width="8.30" height="34.55" fill="#2f4f80" stroke="#1d3a74" stroke-width="0.5"/>
<line x1="461.40" y1="186.40" x2="475.70" y2="186.40" stroke="#1a1a1a" stroke-width="1"/>
<line x1="461.40" y1="184.80" x2="461.40" y2="188.00" stroke="#1a1a1a" stroke-width="0.9"/>
<line x1="475.70" y1="184.80" x2="475.70" y2="188.00" stroke="#1a1a1a" stroke-width="0.9"/>
<text x="459.60" y="182.10" font-size="5.8" textLength="17.60" lengthAdjust="spacingAndGlyphs" fill="#1a1a1a"><tspan font-style="italic">P</tspan>=0.01</text>
<text x="0" y="0" transform="translate(466.00,241.00) rotate(-45)" font-size="6.8" text-anchor="end" fill="#1a1a1a" stroke="#1a1a1a" stroke-width="0.24">scramble</text>
<text x="0" y="0" transform="translate(480.50,241.00) rotate(-45)" font-size="6.8" text-anchor="end" fill="#1a1a1a" stroke="#1a1a1a" stroke-width="0.24"><tspan font-style="italic">circFBXW7</tspan> KD</text>
<text x="468.80" y="174.00" font-size="9.25" text-anchor="middle" fill="#1a1a1a" stroke="#1a1a1a" stroke-width="0.1">OCI-AML3</text>
<text x="8.10" y="302.10" font-size="12.3" font-weight="bold" fill="#000" stroke="#000" stroke-width="0.55">K</text>
<text x="0" y="0" transform="translate(19.80,347.20) rotate(-90)" font-size="9.3" text-anchor="middle" textLength="38.00" lengthAdjust="spacingAndGlyphs" fill="#1a1a1a" stroke="#1a1a1a" stroke-width="0.45">Relative RNA</text>
<text x="0" y="0" transform="translate(30.40,347.20) rotate(-90)" font-size="9.3" text-anchor="middle" textLength="30.00" lengthAdjust="spacingAndGlyphs" fill="#1a1a1a" stroke="#1a1a1a" stroke-width="0.45">expression</text>
<line x1="50.90" y1="323.70" x2="50.90" y2="373.70" stroke="#1a1a1a" stroke-width="1"/>
<line x1="47.90" y1="373.20" x2="50.90" y2="373.20" stroke="#1a1a1a" stroke-width="1"/>
<text x="44.60" y="375.70" font-size="7" text-anchor="end" fill="#1a1a1a" stroke="#1a1a1a" stroke-width="0.18">0.0</text>
<line x1="47.90" y1="357.50" x2="50.90" y2="357.50" stroke="#1a1a1a" stroke-width="1"/>
<text x="44.60" y="360.00" font-size="7" text-anchor="end" fill="#1a1a1a" stroke="#1a1a1a" stroke-width="0.18">0.5</text>
<line x1="47.90" y1="341.80" x2="50.90" y2="341.80" stroke="#1a1a1a" stroke-width="1"/>
<text x="44.60" y="344.30" font-size="7" text-anchor="end" fill="#1a1a1a" stroke="#1a1a1a" stroke-width="0.18">1.0</text>
<line x1="47.90" y1="326.10" x2="50.90" y2="326.10" stroke="#1a1a1a" stroke-width="1"/>
<text x="44.60" y="328.60" font-size="7" text-anchor="end" fill="#1a1a1a" stroke="#1a1a1a" stroke-width="0.18">1.5</text>
<line x1="50.40" y1="373.20" x2="107.20" y2="373.20" stroke="#1a1a1a" stroke-width="1"/>
<line x1="65.30" y1="373.20" x2="65.30" y2="375.80" stroke="#1a1a1a" stroke-width="1"/>
<line x1="93.40" y1="373.20" x2="93.40" y2="375.80" stroke="#1a1a1a" stroke-width="1"/>
<line x1="60.30" y1="340.50" x2="60.30" y2="342.10" stroke="#1a1a1a" stroke-width="0.8"/>
<line x1="58.25" y1="340.50" x2="62.35" y2="340.50" stroke="#1a1a1a" stroke-width="0.9"/>
<rect x="57.05" y="342.35" width="6.50" height="30.85" fill="#a6002b" stroke="#8f0026" stroke-width="0.5"/>
<line x1="70.70" y1="335.00" x2="70.70" y2="342.10" stroke="#1a1a1a" stroke-width="0.8"/>
<line x1="68.65" y1="335.00" x2="72.75" y2="335.00" stroke="#1a1a1a" stroke-width="0.9"/>
<rect x="67.45" y="342.35" width="6.50" height="30.85" fill="#2f4f80" stroke="#1d3a74" stroke-width="0.5"/>
<line x1="88.15" y1="338.40" x2="88.15" y2="342.10" stroke="#1a1a1a" stroke-width="0.8"/>
<line x1="86.10" y1="338.40" x2="90.20" y2="338.40" stroke="#1a1a1a" stroke-width="0.9"/>
<rect x="84.95" y="342.35" width="6.40" height="30.85" fill="#a6002b" stroke="#8f0026" stroke-width="0.5"/>
<rect x="96.35" y="372.85" width="3.90" height="0.35" fill="#2f4f80" stroke="#1d3a74" stroke-width="0.5"/>
<line x1="59.80" y1="331.00" x2="70.90" y2="331.00" stroke="#1a1a1a" stroke-width="1"/>
<line x1="59.80" y1="329.40" x2="59.80" y2="332.60" stroke="#1a1a1a" stroke-width="0.9"/>
<line x1="70.90" y1="329.40" x2="70.90" y2="332.60" stroke="#1a1a1a" stroke-width="0.9"/>
<text x="60.10" y="327.60" font-size="5.8" textLength="10.40" lengthAdjust="spacingAndGlyphs" fill="#1a1a1a">N.S.</text>
<line x1="87.90" y1="331.00" x2="98.60" y2="331.00" stroke="#1a1a1a" stroke-width="1"/>
<line x1="87.90" y1="329.40" x2="87.90" y2="332.60" stroke="#1a1a1a" stroke-width="0.9"/>
<line x1="98.60" y1="329.40" x2="98.60" y2="332.60" stroke="#1a1a1a" stroke-width="0.9"/>
<text x="82.30" y="328.40" font-size="5.8" textLength="21.90" lengthAdjust="spacingAndGlyphs" fill="#1a1a1a"><tspan font-style="italic">P</tspan>=0.011</text>
<text x="0" y="0" transform="translate(68.30,383.20) rotate(-45)" font-size="6.8" text-anchor="end" fill="#1a1a1a" stroke="#1a1a1a" stroke-width="0.24"><tspan font-style="italic">lin</tspan><tspan font-style="italic">FBXW7</tspan></text>
<text x="0" y="0" transform="translate(96.20,384.00) rotate(-45)" font-size="6.8" text-anchor="end" fill="#1a1a1a" stroke="#1a1a1a" stroke-width="0.24"><tspan font-style="italic">circFBXW7</tspan></text>
<text x="79.70" y="314.20" font-size="9" text-anchor="middle" fill="#1a1a1a" stroke="#1a1a1a" stroke-width="0.1">KG-1a</text>
<rect x="55.00" y="416.70" width="6.40" height="5.20" fill="#a6002b"/>
<rect x="55.00" y="425.70" width="6.40" height="5.20" fill="#2f4f80"/>
<text x="65.00" y="421.80" font-size="5.9" fill="#1a1a1a" stroke="#1a1a1a" stroke-width="0.08">scramble</text>
<text x="65.00" y="430.50" font-size="5.9" fill="#1a1a1a" stroke="#1a1a1a" stroke-width="0.08"><tspan font-style="italic">circFBXW7</tspan> KD</text>
<text x="124.00" y="302.10" font-size="12.3" font-weight="bold" fill="#000" stroke="#000" stroke-width="0.55">L</text>
<text x="0" y="0" transform="translate(130.50,345.50) rotate(-90)" font-size="9.3" text-anchor="middle" textLength="36.00" lengthAdjust="spacingAndGlyphs" fill="#1a1a1a" stroke="#1a1a1a" stroke-width="0.45">Relative RNA</text>
<text x="0" y="0" transform="translate(141.80,345.50) rotate(-90)" font-size="9.3" text-anchor="middle" textLength="29.00" lengthAdjust="spacingAndGlyphs" fill="#1a1a1a" stroke="#1a1a1a" stroke-width="0.45">expression</text>
<line x1="163.00" y1="319.90" x2="163.00" y2="373.50" stroke="#1a1a1a" stroke-width="1"/>
<line x1="160.00" y1="373.00" x2="163.00" y2="373.00" stroke="#1a1a1a" stroke-width="1"/>
<text x="157.40" y="375.50" font-size="7" text-anchor="end" fill="#1a1a1a" stroke="#1a1a1a" stroke-width="0.18">0.0</text>
<line x1="160.00" y1="355.90" x2="163.00" y2="355.90" stroke="#1a1a1a" stroke-width="1"/>
<text x="157.40" y="358.40" font-size="7" text-anchor="end" fill="#1a1a1a" stroke="#1a1a1a" stroke-width="0.18">0.5</text>
<line x1="160.00" y1="338.80" x2="163.00" y2="338.80" stroke="#1a1a1a" stroke-width="1"/>
<text x="157.40" y="341.30" font-size="7" text-anchor="end" fill="#1a1a1a" stroke="#1a1a1a" stroke-width="0.18">1.0</text>
<line x1="160.00" y1="321.70" x2="163.00" y2="321.70" stroke="#1a1a1a" stroke-width="1"/>
<text x="157.40" y="324.20" font-size="7" text-anchor="end" fill="#1a1a1a" stroke="#1a1a1a" stroke-width="0.18">1.5</text>
<line x1="162.50" y1="373.00" x2="223.60" y2="373.00" stroke="#1a1a1a" stroke-width="1"/>
<line x1="178.10" y1="373.00" x2="178.10" y2="375.60" stroke="#1a1a1a" stroke-width="1"/>
<line x1="207.70" y1="373.00" x2="207.70" y2="375.60" stroke="#1a1a1a" stroke-width="1"/>
<line x1="172.80" y1="337.90" x2="172.80" y2="339.00" stroke="#1a1a1a" stroke-width="0.8"/>
<line x1="170.75" y1="337.90" x2="174.85" y2="337.90" stroke="#1a1a1a" stroke-width="0.9"/>
<rect x="169.35" y="339.25" width="6.90" height="33.75" fill="#a6002b" stroke="#8f0026" stroke-width="0.5"/>
<line x1="183.75" y1="342.40" x2="183.75" y2="344.30" stroke="#1a1a1a" stroke-width="0.8"/>
<line x1="181.64" y1="342.40" x2="185.86" y2="342.40" stroke="#1a1a1a" stroke-width="0.9"/>
<rect x="180.15" y="344.55" width="7.20" height="28.45" fill="#2f4f80" stroke="#1d3a74" stroke-width="0.5"/>
<line x1="202.60" y1="337.90" x2="202.60" y2="339.00" stroke="#1a1a1a" stroke-width="0.8"/>
<line x1="200.46" y1="337.90" x2="204.74" y2="337.90" stroke="#1a1a1a" stroke-width="0.9"/>
<rect x="198.95" y="339.25" width="7.30" height="33.75" fill="#a6002b" stroke="#8f0026" stroke-width="0.5"/>
<line x1="213.95" y1="368.30" x2="213.95" y2="369.00" stroke="#1a1a1a" stroke-width="0.8"/>
<line x1="211.78" y1="368.30" x2="216.12" y2="368.30" stroke="#1a1a1a" stroke-width="0.9"/>
<rect x="210.25" y="369.25" width="7.40" height="3.75" fill="#2f4f80" stroke="#1d3a74" stroke-width="0.5"/>
<line x1="172.40" y1="327.80" x2="183.80" y2="327.80" stroke="#1a1a1a" stroke-width="1"/>
<line x1="172.40" y1="326.20" x2="172.40" y2="329.40" stroke="#1a1a1a" stroke-width="0.9"/>
<line x1="183.80" y1="326.20" x2="183.80" y2="329.40" stroke="#1a1a1a" stroke-width="0.9"/>
<text x="172.80" y="324.50" font-size="5.8" textLength="11.00" lengthAdjust="spacingAndGlyphs" fill="#1a1a1a">N.S.</text>
<line x1="202.50" y1="327.80" x2="213.80" y2="327.80" stroke="#1a1a1a" stroke-width="1"/>
<line x1="202.50" y1="326.20" x2="202.50" y2="329.40" stroke="#1a1a1a" stroke-width="0.9"/>
<line x1="213.80" y1="326.20" x2="213.80" y2="329.40" stroke="#1a1a1a" stroke-width="0.9"/>
<text x="197.00" y="325.30" font-size="5.8" textLength="22.10" lengthAdjust="spacingAndGlyphs" fill="#1a1a1a"><tspan font-style="italic">P</tspan>=0.003</text>
<text x="0" y="0" transform="translate(182.00,383.80) rotate(-45)" font-size="6.8" text-anchor="end" fill="#1a1a1a" stroke="#1a1a1a" stroke-width="0.24"><tspan font-style="italic">lin</tspan><tspan font-style="italic">FBXW7</tspan></text>
<text x="0" y="0" transform="translate(211.40,383.80) rotate(-45)" font-size="6.8" text-anchor="end" fill="#1a1a1a" stroke="#1a1a1a" stroke-width="0.24"><tspan font-style="italic">circFBXW7</tspan></text>
<text x="193.30" y="313.40" font-size="9.25" text-anchor="middle" fill="#1a1a1a" stroke="#1a1a1a" stroke-width="0.1">OCI-AML3</text>
<rect x="169.60" y="417.00" width="6.40" height="5.20" fill="#a6002b"/>
<rect x="169.60" y="425.90" width="6.40" height="5.20" fill="#2f4f80"/>
<text x="179.60" y="422.10" font-size="5.9" fill="#1a1a1a" stroke="#1a1a1a" stroke-width="0.08">scramble</text>
<text x="179.60" y="430.70" font-size="5.9" fill="#1a1a1a" stroke="#1a1a1a" stroke-width="0.08"><tspan font-style="italic">circFBXW7</tspan> KD</text>
<text x="239.40" y="302.10" font-size="12.3" font-weight="bold" fill="#000" stroke="#000" stroke-width="0.55">M</text>
<text x="0" y="0" transform="translate(246.60,346.00) rotate(-90)" font-size="9.3" text-anchor="middle" textLength="36.50" lengthAdjust="spacingAndGlyphs" fill="#1a1a1a" stroke="#1a1a1a" stroke-width="0.45">Relative RNA</text>
<text x="0" y="0" transform="translate(258.00,346.00) rotate(-90)" font-size="9.3" text-anchor="middle" textLength="29.00" lengthAdjust="spacingAndGlyphs" fill="#1a1a1a" stroke="#1a1a1a" stroke-width="0.45">expression</text>
<line x1="278.30" y1="319.90" x2="278.30" y2="373.90" stroke="#1a1a1a" stroke-width="1"/>
<line x1="275.30" y1="373.40" x2="278.30" y2="373.40" stroke="#1a1a1a" stroke-width="1"/>
<text x="272.80" y="375.90" font-size="7" text-anchor="end" fill="#1a1a1a" stroke="#1a1a1a" stroke-width="0.18">0.0</text>
<line x1="275.30" y1="356.70" x2="278.30" y2="356.70" stroke="#1a1a1a" stroke-width="1"/>
<text x="272.80" y="359.20" font-size="7" text-anchor="end" fill="#1a1a1a" stroke="#1a1a1a" stroke-width="0.18">0.5</text>
<line x1="275.30" y1="340.00" x2="278.30" y2="340.00" stroke="#1a1a1a" stroke-width="1"/>
<text x="272.80" y="342.50" font-size="7" text-anchor="end" fill="#1a1a1a" stroke="#1a1a1a" stroke-width="0.18">1.0</text>
<line x1="275.30" y1="323.30" x2="278.30" y2="323.30" stroke="#1a1a1a" stroke-width="1"/>
<text x="272.80" y="325.80" font-size="7" text-anchor="end" fill="#1a1a1a" stroke="#1a1a1a" stroke-width="0.18">1.5</text>
<line x1="277.80" y1="373.40" x2="338.60" y2="373.40" stroke="#1a1a1a" stroke-width="1"/>
<line x1="294.00" y1="373.40" x2="294.00" y2="376.00" stroke="#1a1a1a" stroke-width="1"/>
<line x1="324.00" y1="373.40" x2="324.00" y2="376.00" stroke="#1a1a1a" stroke-width="1"/>
<line x1="288.55" y1="338.10" x2="288.55" y2="340.40" stroke="#1a1a1a" stroke-width="0.8"/>
<line x1="286.44" y1="338.10" x2="290.66" y2="338.10" stroke="#1a1a1a" stroke-width="0.9"/>
<rect x="284.95" y="340.65" width="7.20" height="32.75" fill="#a6002b" stroke="#8f0026" stroke-width="0.5"/>
<line x1="299.65" y1="329.00" x2="299.65" y2="338.10" stroke="#1a1a1a" stroke-width="0.8"/>
<line x1="297.60" y1="329.00" x2="301.70" y2="329.00" stroke="#1a1a1a" stroke-width="0.9"/>
<rect x="296.25" y="338.35" width="6.80" height="35.05" fill="#2f4f80" stroke="#1d3a74" stroke-width="0.5"/>
<line x1="318.70" y1="337.40" x2="318.70" y2="340.40" stroke="#1a1a1a" stroke-width="0.8"/>
<line x1="316.50" y1="337.40" x2="320.90" y2="337.40" stroke="#1a1a1a" stroke-width="0.9"/>
<rect x="314.95" y="340.65" width="7.50" height="32.75" fill="#a6002b" stroke="#8f0026" stroke-width="0.5"/>
<line x1="329.75" y1="370.00" x2="329.75" y2="370.70" stroke="#1a1a1a" stroke-width="0.8"/>
<line x1="327.70" y1="370.00" x2="331.80" y2="370.00" stroke="#1a1a1a" stroke-width="0.9"/>
<rect x="326.35" y="370.95" width="6.80" height="2.45" fill="#2f4f80" stroke="#1d3a74" stroke-width="0.5"/>
<line x1="288.50" y1="325.60" x2="299.90" y2="325.60" stroke="#1a1a1a" stroke-width="1"/>
<line x1="288.50" y1="324.00" x2="288.50" y2="327.20" stroke="#1a1a1a" stroke-width="0.9"/>
<line x1="299.90" y1="324.00" x2="299.90" y2="327.20" stroke="#1a1a1a" stroke-width="0.9"/>
<text x="288.80" y="322.10" font-size="5.8" textLength="10.80" lengthAdjust="spacingAndGlyphs" fill="#1a1a1a">N.S.</text>
<line x1="318.80" y1="325.60" x2="329.50" y2="325.60" stroke="#1a1a1a" stroke-width="1"/>
<line x1="318.80" y1="324.00" x2="318.80" y2="327.20" stroke="#1a1a1a" stroke-width="0.9"/>
<line x1="329.50" y1="324.00" x2="329.50" y2="327.20" stroke="#1a1a1a" stroke-width="0.9"/>
<text x="313.60" y="322.90" font-size="5.8" textLength="21.60" lengthAdjust="spacingAndGlyphs" fill="#1a1a1a"><tspan font-style="italic">P</tspan>=0.005</text>
<text x="0" y="0" transform="translate(297.60,383.60) rotate(-45)" font-size="6.8" text-anchor="end" fill="#1a1a1a" stroke="#1a1a1a" stroke-width="0.24"><tspan font-style="italic">lin</tspan><tspan font-style="italic">FBXW7</tspan></text>
<text x="0" y="0" transform="translate(327.30,383.60) rotate(-45)" font-size="6.8" text-anchor="end" fill="#1a1a1a" stroke="#1a1a1a" stroke-width="0.24"><tspan font-style="italic">circFBXW7</tspan></text>
<rect x="285.30" y="417.00" width="6.40" height="5.20" fill="#a6002b"/>
<rect x="285.30" y="425.90" width="6.40" height="5.20" fill="#2f4f80"/>
<text x="295.30" y="422.10" font-size="5.9" fill="#1a1a1a" stroke="#1a1a1a" stroke-width="0.08">scramble</text>
<text x="295.30" y="430.70" font-size="5.9" fill="#1a1a1a" stroke="#1a1a1a" stroke-width="0.08"><tspan font-style="italic">circFBXW7</tspan> KD</text>
<text x="355.80" y="302.10" font-size="12.3" font-weight="bold" fill="#000" stroke="#000" stroke-width="0.55">N</text>
<text x="0" y="0" transform="translate(363.80,346.00) rotate(-90)" font-size="9.3" text-anchor="middle" textLength="54.70" lengthAdjust="spacingAndGlyphs" fill="#1a1a1a" stroke="#1a1a1a" stroke-width="0.45">Number of colonies</text>
<line x1="384.20" y1="318.70" x2="384.20" y2="373.40" stroke="#1a1a1a" stroke-width="1"/>
<line x1="381.20" y1="372.90" x2="384.20" y2="372.90" stroke="#1a1a1a" stroke-width="1"/>
<text x="377.50" y="375.40" font-size="7" text-anchor="end" fill="#1a1a1a" stroke="#1a1a1a" stroke-width="0.18">0</text>
<line x1="381.20" y1="355.83" x2="384.20" y2="355.83" stroke="#1a1a1a" stroke-width="1"/>
<text x="377.50" y="358.33" font-size="7" text-anchor="end" fill="#1a1a1a" stroke="#1a1a1a" stroke-width="0.18">20</text>
<line x1="381.20" y1="338.76" x2="384.20" y2="338.76" stroke="#1a1a1a" stroke-width="1"/>
<text x="377.50" y="341.26" font-size="7" text-anchor="end" fill="#1a1a1a" stroke="#1a1a1a" stroke-width="0.18">40</text>
<line x1="381.20" y1="321.69" x2="384.20" y2="321.69" stroke="#1a1a1a" stroke-width="1"/>
<text x="377.50" y="324.19" font-size="7" text-anchor="end" fill="#1a1a1a" stroke="#1a1a1a" stroke-width="0.18">60</text>
<line x1="383.70" y1="372.90" x2="448.40" y2="372.90" stroke="#1a1a1a" stroke-width="1"/>
<line x1="395.60" y1="372.90" x2="395.60" y2="375.50" stroke="#1a1a1a" stroke-width="1"/>
<line x1="416.50" y1="372.90" x2="416.50" y2="375.50" stroke="#1a1a1a" stroke-width="1"/>
<line x1="437.70" y1="372.90" x2="437.70" y2="375.50" stroke="#1a1a1a" stroke-width="1"/>
<line x1="391.00" y1="357.40" x2="391.00" y2="358.60" stroke="#1a1a1a" stroke-width="0.8"/>
<line x1="388.95" y1="357.40" x2="393.05" y2="357.40" stroke="#1a1a1a" stroke-width="0.9"/>
<rect x="388.55" y="358.85" width="4.90" height="14.05" fill="#a6002b" stroke="#8f0026" stroke-width="0.5"/>
<line x1="399.30" y1="347.20" x2="399.30" y2="349.90" stroke="#1a1a1a" stroke-width="0.8"/>
<line x1="397.25" y1="347.20" x2="401.35" y2="347.20" stroke="#1a1a1a" stroke-width="0.9"/>
<rect x="396.95" y="350.15" width="4.70" height="22.75" fill="#2f4f80" stroke="#1d3a74" stroke-width="0.5"/>
<line x1="412.55" y1="357.00" x2="412.55" y2="359.00" stroke="#1a1a1a" stroke-width="0.8"/>
<line x1="410.50" y1="357.00" x2="414.60" y2="357.00" stroke="#1a1a1a" stroke-width="0.9"/>
<rect x="409.95" y="359.25" width="5.20" height="13.65" fill="#a6002b" stroke="#8f0026" stroke-width="0.5"/>
<line x1="420.60" y1="348.30" x2="420.60" y2="351.80" stroke="#1a1a1a" stroke-width="0.8"/>
<line x1="418.55" y1="348.30" x2="422.65" y2="348.30" stroke="#1a1a1a" stroke-width="0.9"/>
<rect x="418.15" y="352.05" width="4.90" height="20.85" fill="#2f4f80" stroke="#1d3a74" stroke-width="0.5"/>
<line x1="433.75" y1="338.80" x2="433.75" y2="340.40" stroke="#1a1a1a" stroke-width="0.8"/>
<line x1="431.70" y1="338.80" x2="435.80" y2="338.80" stroke="#1a1a1a" stroke-width="0.9"/>
<rect x="431.15" y="340.65" width="5.20" height="32.25" fill="#a6002b" stroke="#8f0026" stroke-width="0.5"/>
<line x1="442.15" y1="323.30" x2="442.15" y2="325.60" stroke="#1a1a1a" stroke-width="0.8"/>
<line x1="440.10" y1="323.30" x2="444.20" y2="323.30" stroke="#1a1a1a" stroke-width="0.9"/>
<rect x="439.55" y="325.85" width="5.20" height="47.05" fill="#2f4f80" stroke="#1d3a74" stroke-width="0.5"/>
<line x1="391.00" y1="338.80" x2="399.00" y2="338.80" stroke="#1a1a1a" stroke-width="1"/>
<line x1="391.00" y1="337.20" x2="391.00" y2="340.40" stroke="#1a1a1a" stroke-width="0.9"/>
<line x1="399.00" y1="337.20" x2="399.00" y2="340.40" stroke="#1a1a1a" stroke-width="0.9"/>
<text x="386.00" y="335.90" font-size="5.8" textLength="18.70" lengthAdjust="spacingAndGlyphs" fill="#1a1a1a"><tspan font-style="italic">P</tspan>=0.03</text>
<line x1="412.60" y1="338.80" x2="420.60" y2="338.80" stroke="#1a1a1a" stroke-width="1"/>
<line x1="412.60" y1="337.20" x2="412.60" y2="340.40" stroke="#1a1a1a" stroke-width="0.9"/>
<line x1="420.60" y1="337.20" x2="420.60" y2="340.40" stroke="#1a1a1a" stroke-width="0.9"/>
<text x="407.00" y="335.90" font-size="5.8" textLength="18.60" lengthAdjust="spacingAndGlyphs" fill="#1a1a1a"><tspan font-style="italic">P</tspan>=0.04</text>
<line x1="433.80" y1="318.30" x2="442.30" y2="318.30" stroke="#1a1a1a" stroke-width="1"/>
<line x1="433.80" y1="316.70" x2="433.80" y2="319.90" stroke="#1a1a1a" stroke-width="0.9"/>
<line x1="442.30" y1="316.70" x2="442.30" y2="319.90" stroke="#1a1a1a" stroke-width="0.9"/>
<text x="428.60" y="315.40" font-size="5.8" textLength="18.90" lengthAdjust="spacingAndGlyphs" fill="#1a1a1a"><tspan font-style="italic">P</tspan>=0.02</text>
<text x="0" y="0" transform="translate(397.50,383.90) rotate(-45)" font-size="6.8" text-anchor="end" fill="#1a1a1a" stroke="#1a1a1a" stroke-width="0.24">pat#1</text>
<text x="0" y="0" transform="translate(418.60,383.90) rotate(-45)" font-size="6.8" text-anchor="end" fill="#1a1a1a" stroke="#1a1a1a" stroke-width="0.24">pat#2</text>
<text x="0" y="0" transform="translate(439.90,383.90) rotate(-45)" font-size="6.8" text-anchor="end" fill="#1a1a1a" stroke="#1a1a1a" stroke-width="0.24">pat#3</text>
<rect x="392.80" y="417.00" width="6.40" height="5.20" fill="#a6002b"/>
<rect x="392.80" y="426.00" width="6.40" height="5.20" fill="#2f4f80"/>
<text x="402.80" y="422.10" font-size="5.9" fill="#1a1a1a" stroke="#1a1a1a" stroke-width="0.08">scramble</text>
<text x="402.80" y="430.80" font-size="5.9" fill="#1a1a1a" stroke="#1a1a1a" stroke-width="0.08"><tspan font-style="italic">circFBXW7</tspan> KD</text>
<rect x="0.00" y="0.00" width="520.00" height="1.25" fill="#000"/>
<rect x="0.00" y="0.00" width="1.25" height="439.00" fill="#000"/>
<rect x="518.60" y="0.00" width="1.40" height="439.00" fill="#000"/>
<rect x="0.00" y="437.40" width="520.00" height="1.60" fill="#000"/>
</svg>
</body></html>
